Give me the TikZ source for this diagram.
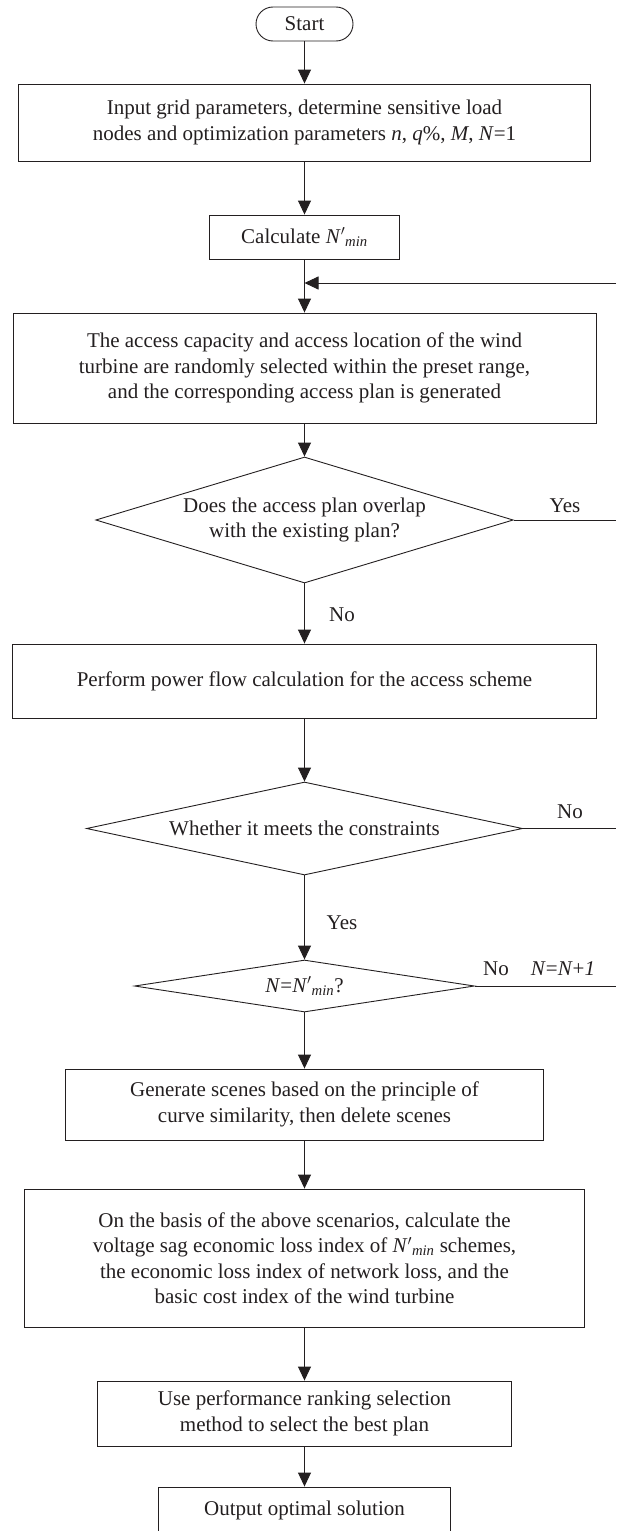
\documentclass[tikz,border=0pt]{standalone}
\usepackage{fontspec}
\setmainfont{Liberation Serif}
\usetikzlibrary{arrows.meta,shapes.geometric}
\definecolor{ink}{HTML}{231F20}
\newcommand{\Nmin}{\textit{N}$'$\textsubscript{\textit{min}}}
\begin{document}
\begin{tikzpicture}[x=1pt,y=-1pt,
  font=\fontsize{21}{25.5}\selectfont,
  box/.style={draw=ink, line width=0.9pt, text=ink, align=center, inner sep=0pt},
  term/.style={box, rounded corners=17pt},
  dec/.style={shape=diamond, draw=ink, line width=0.9pt, text=ink, align=center, inner sep=0pt},
  arr/.style={draw=ink, line width=0.9pt, -{Triangle[length=14pt,width=13pt]}},
  ln/.style={draw=ink, line width=0.9pt},
  lab/.style={text=ink, inner sep=0pt}]
\useasboundingbox (0,0) rectangle (616,1531);
\clip (0,0) rectangle (616,1531);
\coordinate (rx) at (616,0);
\node[term, minimum width=97pt, minimum height=34pt] (start) at (304.5,24) {Start};
\node[box, minimum width=572pt, minimum height=77pt] (input) at (304.5,122.5) {Input grid parameters, determine sensitive load\\nodes and optimization parameters \textit{n}, \textit{q}\%, \textit{M}, \textit{N}=1};
\node[box, minimum width=190pt, minimum height=44pt] (calc) at (304.5,237) {Calculate \Nmin};
\node[box, minimum width=583pt, minimum height=110pt] (access) at (304.5,368) {The access capacity and access location of the wind\\turbine are randomly selected within the preset range,\\and the corresponding access plan is generated};
\node[dec, aspect=3.31, minimum width=417.5pt, minimum height=126pt] (d1) at (304.5,520) {Does the access plan overlap\\with the existing plan?};
\node[box, minimum width=584pt, minimum height=74pt] (perform) at (304.5,681) {Perform power flow calculation for the access scheme};
\node[dec, aspect=4.69, minimum width=436pt, minimum height=93pt] (d2) at (304.5,828.5) {Whether it meets the constraints};
\node[dec, aspect=6.54, minimum width=340pt, minimum height=52pt] (d3) at (304.5,986) {\textit{N}=\Nmin?};
\node[box, minimum width=478pt, minimum height=71pt] (gen) at (304.5,1104.5) {Generate scenes based on the principle of\\curve similarity, then delete scenes};
\node[box, minimum width=560pt, minimum height=138pt] (loss) at (304.5,1258) {On the basis of the above scenarios, calculate the\\voltage sag economic loss index of \Nmin{} schemes,\\the economic loss index of network loss, and the\\basic cost index of the wind turbine};
\node[box, minimum width=414pt, minimum height=65pt] (use) at (304.5,1413.5) {Use performance ranking selection\\method to select the best plan};
\node[box, minimum width=292pt, minimum height=46pt] (out) at (304.5,1510) {Output optimal solution};
% labels
\node[lab] (l1) at (565,506) {Yes};
\node[lab] (l2) at (342,615) {No};
\node[lab] (l3) at (570,812) {No};
\node[lab] (l4) at (342,923) {Yes};
\node[lab] (l5) at (496,969) {No};
\node[lab] (l6) at (563,969) {\textit{N}=\textit{N}+\textit{1}};
% feedback coordinates at the right edge
\coordinate (fb) at (616,283);
\coordinate (e1) at (d1.east -| rx);
\coordinate (e2) at (d2.east -| rx);
\coordinate (e3) at (d3.east -| rx);
% connectors
\draw[arr] (start) -- (input);
\draw[arr] (input) -- (calc);
\draw[arr] (calc) -- (access);
\draw[arr] (fb) -- (calc.south |- fb);
\draw[arr] (access) -- (d1);
\draw[arr] (d1) -- (perform);
\draw[ln] (d1.east) -- (e1);
\draw[arr] (perform) -- (d2);
\draw[ln] (d2.east) -- (e2);
\draw[arr] (d2) -- (d3);
\draw[ln] (d3.east) -- (e3);
\draw[arr] (d3) -- (gen);
\draw[arr] (gen) -- (loss);
\draw[arr] (loss) -- (use);
\draw[arr] (use) -- (out);
\end{tikzpicture}
\end{document}
